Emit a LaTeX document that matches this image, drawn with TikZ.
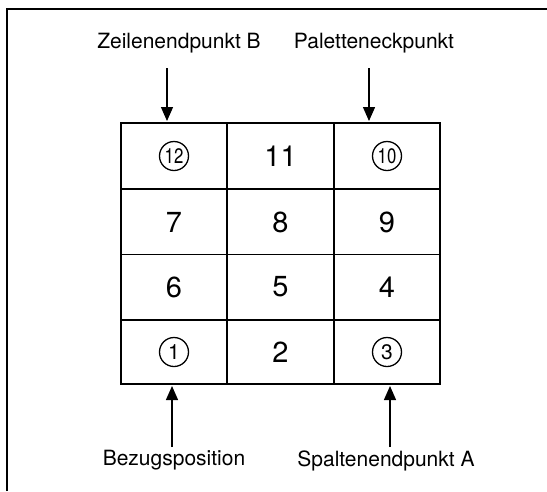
\documentclass[tikz,border=0pt]{standalone}
\usepackage{fontspec}
\setmainfont{TeX Gyre Heros}
\usetikzlibrary{arrows.meta}
\begin{document}
\begin{tikzpicture}[x=1pt,y=-1pt,
  lbl/.style={font=\fontsize{21}{23}\selectfont, inner sep=0pt},
  num/.style={font=\fontsize{29}{31}\selectfont, inner sep=0pt},
  cnum/.style={circle, draw, line width=1.3pt, minimum size=29pt, inner sep=0pt,
    font=\fontsize{21}{22}\selectfont},
  arr/.style={line width=1.4pt, -{Triangle[width=12pt,length=14pt]}},
  outer/.style={line width=2.6pt},
  inner/.style={line width=1.5pt}]
\useasboundingbox (0,0) rectangle (547,491);
% partial frame
\draw[line width=2.2pt] (7,491) -- (7,9) -- (547,9);
% grid
\coordinate (g0) at (121,123);
\coordinate (g1) at (440,384);
\draw[inner] (227,123) -- (227,384) (334,123) -- (334,384)
  (121,189) -- (440,189) (121,254.5) -- (440,254.5) (121,320) -- (440,320);
\draw[outer] (g0) rectangle (g1);
% cell contents
\node[cnum] (c12) at (174,156) {\scalebox{0.8}[1]{12}};
\node[num]  (c11) at (280.5,156) {11};
\node[cnum] (c10) at (387,156) {\scalebox{0.8}[1]{10}};
\node[num]  (c7) at (174,222) {7};
\node[num]  (c8) at (280.5,222) {8};
\node[num]  (c9) at (387,222) {9};
\node[num]  (c6) at (174,287) {6};
\node[num]  (c5) at (280.5,287) {5};
\node[num]  (c4) at (387,287) {4};
\node[cnum] (c1) at (174,352) {1};
\node[num]  (c2) at (280.5,352) {2};
\node[cnum] (c3) at (387,352) {3};
% labels
\node[lbl] (zb) at (179,43) {Zeilenendpunkt B};
\node[lbl] (pe) at (374,43) {Paletteneckpunkt};
\node[lbl] (bz) at (174,460) {Bezugsposition};
\node[lbl] (sa) at (386,461) {Spaltenendpunkt A};
% arrow ends
\coordinate (zbs) at (167,68);
\coordinate (zbe) at (167,121);
\coordinate (pes) at (369,68);
\coordinate (pee) at (369,121);
\coordinate (bzs) at (172,447);
\coordinate (bze) at (172,386);
\coordinate (sas) at (390,447);
\coordinate (sae) at (390,386);
\draw[arr] (zbs) -- (zbe);
\draw[arr] (pes) -- (pee);
\draw[arr] (bzs) -- (bze);
\draw[arr] (sas) -- (sae);
\end{tikzpicture}
\end{document}
